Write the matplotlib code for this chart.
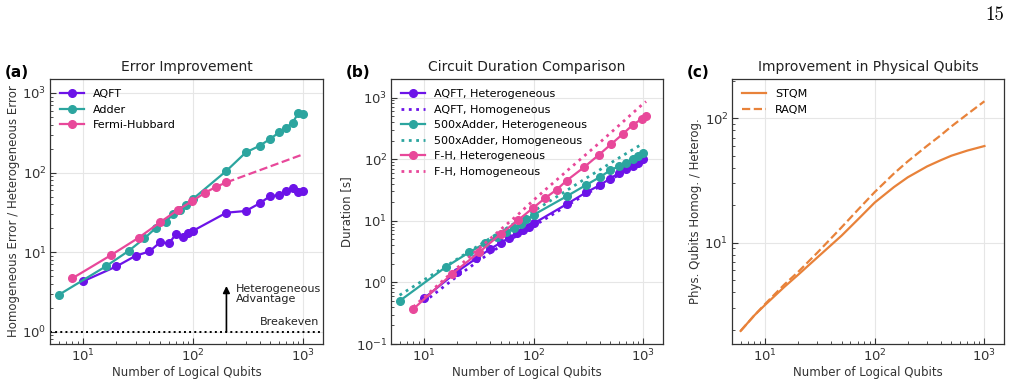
import matplotlib
matplotlib.use("Agg")
import matplotlib.pyplot as plt
import numpy as np

# ---- panel (a): error improvement ----
aqft_x = [10, 20, 30, 40, 50, 60, 70, 80, 90, 100, 200, 300, 400, 500, 600, 700, 800, 900, 1000]
aqft_err = [4.3, 6.6, 9.0, 10.2, 13.3, 12.9, 16.9, 15.7, 17.3, 18.6, 31.3, 32.9, 41.0, 50.7, 51.7, 58.6, 63.3, 56.4, 58.6]

adder_x = [6, 16, 26, 36, 46, 56, 66, 76, 86, 100, 200, 300, 400, 500, 600, 700, 800, 900, 1000]
adder_err = [2.9, 6.6, 10.4, 14.9, 20.3, 24.2, 29.9, 34.0, 39.1, 47.0, 105, 179, 217, 265, 319, 368, 425, 562, 552]

fh_x = [8, 18, 32, 50, 72, 98, 128, 162, 200]
fh_err = [4.7, 9.2, 15.2, 23.7, 33.8, 43.9, 55.8, 66.4, 75.2]
fh_extrap_x = [200, 1000]
fh_extrap_err = [75.2, 170]

# ---- panel (b): circuit duration ----
aqft_het = [0.55, 1.49, 2.45, 3.47, 4.4, 5.3, 6.4, 7.1, 8.0, 9.05, 18.6, 28.8, 37.8, 48.5, 60, 68.8, 77, 87, 100]
aqft_hom = [0.48, 1.25, 2.1, 3.0, 3.9, 4.8, 5.7, 6.5, 7.4, 8.2, 17.5, 27, 36, 46, 56, 65, 74, 84, 95]

adder_het = [0.5, 1.8, 3.1, 4.3, 5.5, 6.5, 7.7, 9.0, 10.5, 12.5, 25, 38, 51, 66, 77, 88, 100, 113, 128]
adder_hom = [0.62, 1.85, 3.2, 4.6, 6.1, 7.5, 9.0, 10.6, 12.2, 14.3, 31, 49, 67, 86, 105, 124, 143, 162, 180]

fh_dur_x = [8, 18, 32, 50, 72, 98, 128, 162, 200, 288, 392, 512, 648, 800, 968, 1058]
fh_het = [0.37, 1.37, 3.1, 6.1, 10.2, 16, 23.5, 32, 45, 74, 117, 177, 255, 360, 450, 510]
fh_hom = [0.40, 1.45, 3.6, 7.2, 12.6, 21, 32, 46, 64, 112, 180, 275, 400, 560, 760, 860]

# ---- panel (c): physical qubit improvement ----
phys_x = [6, 8, 10, 15, 20, 30, 50, 70, 100, 150, 200, 300, 400, 500, 700, 1000]
stqm = [1.95, 2.6, 3.15, 4.4, 5.5, 7.6, 11.4, 15.3, 21.0, 28.0, 33.5, 41.0, 46.0, 50.0, 55.0, 59.8]
raqm = [1.95, 2.6, 3.2, 4.6, 5.8, 8.3, 13.3, 18.3, 25.5, 36.0, 45.0, 60.0, 73.0, 86.0, 108.0, 137.0]

PURPLE = "#6c13e8"
TEAL = "#2ca59f"
PINK = "#e8489a"
ORANGE = "#e8823a"

plt.rcParams["font.family"] = "DejaVu Sans"
plt.rcParams["font.size"] = 9

fig = plt.figure(figsize=(10.18, 3.83), dpi=100)
ax_a = fig.add_axes([0.0491, 0.1018, 0.268, 0.692])
ax_b = fig.add_axes([0.384, 0.1018, 0.267, 0.692])
ax_c = fig.add_axes([0.719, 0.1018, 0.267, 0.692])


def style_axis(ax):
    ax.set_xscale("log")
    ax.set_yscale("log")
    ax.grid(True, which="major", color="#e6e6e6", linewidth=0.8)
    ax.set_axisbelow(True)
    ax.tick_params(which="both", direction="in", colors="#333333", labelcolor="#333333", pad=2.5)
    ax.tick_params(which="major", length=4, labelsize=9.5)
    ax.tick_params(which="minor", length=2)
    for s in ax.spines.values():
        s.set_color("#333333")
        s.set_linewidth(0.9)
    ax.set_xlim(5, 1500)
    ax.set_xlabel("Number of Logical Qubits", fontsize=8.5, color="#333333", labelpad=1.5)


mk = dict(marker="o", markersize=5.5, linewidth=1.6)

# (a)
style_axis(ax_a)
ax_a.plot(aqft_x, aqft_err, color=PURPLE, label="AQFT", **mk)
ax_a.plot(adder_x, adder_err, color=TEAL, label="Adder", **mk)
ax_a.plot(fh_x, fh_err, color=PINK, label="Fermi-Hubbard", **mk)
ax_a.plot(fh_extrap_x, fh_extrap_err, color=PINK, linestyle="--", linewidth=1.6)
ax_a.axhline(1, color="black", linestyle=":", linewidth=1.4)
ax_a.annotate("", xy=(200, 3.75), xytext=(200, 1),
              arrowprops=dict(arrowstyle="-|>", color="black", linewidth=1.2,
                              mutation_scale=10, shrinkA=0, shrinkB=0))
ax_a.text(245, 2.95, "Heterogeneous\nAdvantage", fontsize=8, ha="left", va="center",
          color="#222222", linespacing=1.0)
ax_a.text(1400, 1.33, "Breakeven", fontsize=8, ha="right", va="center", color="#222222")
ax_a.set_ylim(0.7, 1500)
ax_a.set_ylabel("Homogeneous Error / Heterogeneous Error", fontsize=8.5, color="#333333", labelpad=2)
ax_a.set_title("Error Improvement", fontsize=10, color="#222222")
ax_a.legend(loc="upper left", frameon=False, fontsize=8, handlelength=2.2)

# (b)
style_axis(ax_b)
ax_b.plot(aqft_x, aqft_het, color=PURPLE, label="AQFT, Heterogeneous", **mk)
ax_b.plot(aqft_x, aqft_hom, color=PURPLE, linestyle=":", linewidth=2, label="AQFT, Homogeneous")
ax_b.plot(adder_x, adder_het, color=TEAL, label="500xAdder, Heterogeneous", **mk)
ax_b.plot(adder_x, adder_hom, color=TEAL, linestyle=":", linewidth=2, label="500xAdder, Homogeneous")
ax_b.plot(fh_dur_x, fh_het, color=PINK, label="F-H, Heterogeneous", **mk)
ax_b.plot(fh_dur_x, fh_hom, color=PINK, linestyle=":", linewidth=2, label="F-H, Homogeneous")
ax_b.set_ylim(0.1, 2000)
ax_b.set_ylabel("Duration [s]", fontsize=8.5, color="#333333", labelpad=2)
ax_b.set_title("Circuit Duration Comparison", fontsize=10, color="#222222")
ax_b.legend(loc="upper left", frameon=False, fontsize=8, handlelength=2.2)

# (c)
style_axis(ax_c)
ax_c.plot(phys_x, stqm, color=ORANGE, linewidth=1.6, label="STQM")
ax_c.plot(phys_x, raqm, color=ORANGE, linewidth=1.6, linestyle="--", label="RAQM")
ax_c.set_ylim(1.53, 207)
ax_c.set_ylabel("Phys. Qubits Homog. / Heterog.", fontsize=8.5, color="#333333", labelpad=2)
ax_c.set_title("Improvement in Physical Qubits", fontsize=10, color="#222222")
ax_c.legend(loc="upper left", frameon=False, fontsize=8, handlelength=2.2)

for ax, lab in zip([ax_a, ax_b, ax_c], ["(a)", "(b)", "(c)"]):
    pos = ax.get_position()
    fig.text(pos.x0 - 0.044, pos.y1 - 0.003, lab, fontsize=11, fontweight="bold",
             ha="left", va="bottom")

fig.text(0.986, 0.96, "15", fontsize=13.5, family="cmr10", ha="right", va="center")

fig.savefig("out.png", dpi=100)
